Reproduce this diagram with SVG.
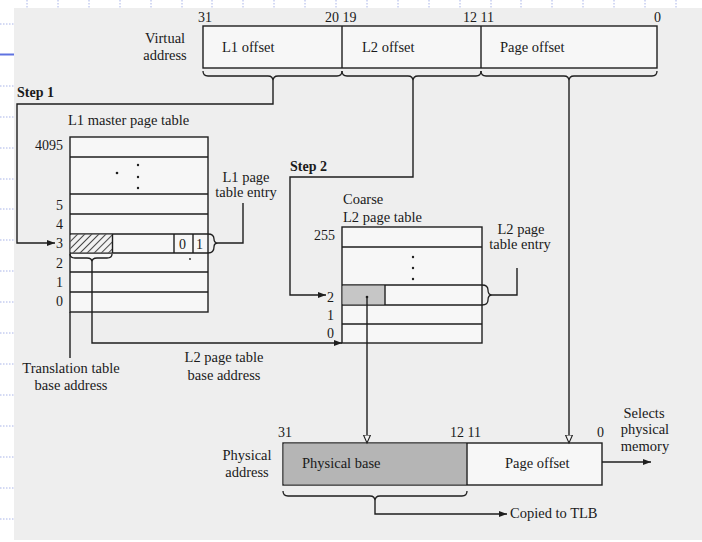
<svg xmlns="http://www.w3.org/2000/svg" width="702" height="542" viewBox="0 0 702 542">
<style>
text{font-family:"Liberation Serif","Times New Roman",serif;font-size:14.5px;fill:#1a1a1a}
.b{font-weight:bold;font-size:14px}
.n{font-size:14px}
.m{text-anchor:middle}
.e{text-anchor:end}
.box{fill:#f7f7f7;stroke:#1e1e1e;stroke-width:1.4}
.ln{fill:none;stroke:#1e1e1e;stroke-width:1.4}
.br{fill:none;stroke:#1e1e1e;stroke-width:1.3}
.dot{fill:#1e1e1e}
.grid{stroke:#a9b4e8;stroke-width:1;stroke-dasharray:1.5 1.5}
</style>
<defs>
<marker id="ah" markerWidth="9" markerHeight="7" refX="8" refY="3" orient="auto" markerUnits="userSpaceOnUse">
<path d="M0,0 L8,3 L0,6 z" fill="#1e1e1e"/>
</marker>
<marker id="oh" markerWidth="10" markerHeight="9" refX="8.5" refY="4" orient="auto" markerUnits="userSpaceOnUse">
<path d="M0.5,0.5 L8.5,4 L0.5,7.5 z" fill="#f4f4f4" stroke="#1e1e1e" stroke-width="1.1"/>
</marker>
<pattern id="hatch" width="5" height="5" patternUnits="userSpaceOnUse" patternTransform="rotate(45)">
<rect width="5" height="5" fill="#f2f2f2"/>
<line x1="0" y1="0" x2="0" y2="5" stroke="#1e1e1e" stroke-width="1.6"/>
</pattern>
</defs>
<rect width="702" height="542" fill="#ffffff"/>
<g id="template">
<g class="grid">
<line x1="27" y1="0" x2="27" y2="8"/><line x1="58" y1="0" x2="58" y2="8"/><line x1="89" y1="0" x2="89" y2="8"/><line x1="120" y1="0" x2="120" y2="8"/><line x1="151" y1="0" x2="151" y2="8"/><line x1="182" y1="0" x2="182" y2="8"/><line x1="212" y1="0" x2="212" y2="8"/><line x1="243" y1="0" x2="243" y2="8"/><line x1="274" y1="0" x2="274" y2="8"/><line x1="305" y1="0" x2="305" y2="8"/><line x1="336" y1="0" x2="336" y2="8"/><line x1="367" y1="0" x2="367" y2="8"/><line x1="398" y1="0" x2="398" y2="8"/><line x1="429" y1="0" x2="429" y2="8"/><line x1="460" y1="0" x2="460" y2="8"/><line x1="491" y1="0" x2="491" y2="8"/><line x1="521" y1="0" x2="521" y2="8"/><line x1="552" y1="0" x2="552" y2="8"/><line x1="583" y1="0" x2="583" y2="8"/><line x1="614" y1="0" x2="614" y2="8"/><line x1="645" y1="0" x2="645" y2="8"/><line x1="676" y1="0" x2="676" y2="8"/>
<line x1="0" y1="24" x2="14" y2="24"/><line x1="0" y1="86" x2="14" y2="86"/><line x1="0" y1="117" x2="14" y2="117"/><line x1="0" y1="148" x2="14" y2="148"/><line x1="0" y1="179" x2="14" y2="179"/><line x1="0" y1="209" x2="14" y2="209"/><line x1="0" y1="240" x2="14" y2="240"/><line x1="0" y1="271" x2="14" y2="271"/><line x1="0" y1="302" x2="14" y2="302"/><line x1="0" y1="333" x2="14" y2="333"/><line x1="0" y1="364" x2="14" y2="364"/><line x1="0" y1="395" x2="14" y2="395"/><line x1="0" y1="426" x2="14" y2="426"/><line x1="0" y1="457" x2="14" y2="457"/><line x1="0" y1="488" x2="14" y2="488"/><line x1="0" y1="519" x2="14" y2="519"/>
</g>
<line x1="0" y1="54.5" x2="14" y2="54.5" stroke="#5f72e0" stroke-width="2"/>
<rect x="14" y="8" width="688" height="532" fill="#eeeeee"/>
</g>

<g id="virtual-address">
<rect class="box" x="203" y="26" width="454" height="42"/>
<line class="ln" x1="342" y1="26" x2="342" y2="68"/>
<line class="ln" x1="481" y1="26" x2="481" y2="68"/>
<text class="n" x="198" y="22">31</text>
<text class="n" x="325" y="22">20 19</text>
<text class="n" x="463" y="22">12 11</text>
<text class="n" x="654" y="22">0</text>
<text class="m" x="165" y="43">Virtual</text>
<text class="m" x="165" y="60">address</text>
<text x="222" y="52">L1 offset</text>
<text x="362" y="52">L2 offset</text>
<text x="500" y="52">Page offset</text>
<path class="br" d="M203,71 Q203,76 208,76 L268,76 Q273,76 273,81 Q273,76 278,76 L337,76 Q342,76 342,71"/>
<path class="br" d="M342,71 Q342,76 347,76 L408,76 Q413,76 413,81 Q413,76 418,76 L476,76 Q481,76 481,71"/>
<path class="br" d="M481,71 Q481,76 486,76 L564,76 Q569,76 569,81 Q569,76 574,76 L652,76 Q657,76 657,71"/>
</g>

<g id="l1-table">
<text x="68" y="125">L1 master page table</text>
<rect class="box" x="70" y="137" width="138" height="175"/>
<g class="ln">
<line x1="70" y1="157" x2="208" y2="157"/>
<line x1="70" y1="194" x2="208" y2="194"/>
<line x1="70" y1="214" x2="208" y2="214"/>
<line x1="70" y1="234" x2="208" y2="234"/>
<line x1="70" y1="253" x2="208" y2="253"/>
<line x1="70" y1="272" x2="208" y2="272"/>
<line x1="70" y1="292" x2="208" y2="292"/>
<line x1="174" y1="234" x2="174" y2="253"/>
<line x1="193" y1="234" x2="193" y2="253"/>
</g>
<rect x="70.7" y="234.7" width="41.6" height="17.6" fill="url(#hatch)"/>
<line class="ln" x1="112.5" y1="234" x2="112.5" y2="253"/>
<text class="n" x="179" y="249">0</text>
<text class="n" x="196" y="249">1</text>
<circle class="dot" cx="117" cy="173" r="1.3"/>
<circle class="dot" cx="138" cy="165" r="1.2"/>
<circle class="dot" cx="138" cy="177" r="1.2"/>
<circle class="dot" cx="138" cy="188" r="1.2"/>
<circle class="dot" cx="190" cy="259" r="0.9"/>
<text class="n e" x="63" y="150">4095</text>
<text class="n e" x="63" y="210">5</text>
<text class="n e" x="63" y="229">4</text>
<text class="n e" x="63" y="248">3</text>
<text class="n e" x="63" y="268">2</text>
<text class="n e" x="63" y="287">1</text>
<text class="n e" x="63" y="306">0</text>
<path class="br" d="M208,234 Q214,234 214,239 Q214,243 218,243 Q214,243 214,247 Q214,253 208,253"/>
<path class="br" d="M70,254 Q70,258 75,258 L87,258 Q92,258 92,262 Q92,258 97,258 L107,258 Q112,258 112,254"/>
<text class="m" x="246" y="182">L1 page</text>
<text class="m" x="246" y="197">table entry</text>
</g>

<g id="l2-table">
<text x="343" y="204">Coarse</text>
<text x="343" y="222">L2 page table</text>
<rect class="box" x="342" y="227" width="140" height="116"/>
<g class="ln">
<line x1="342" y1="247" x2="482" y2="247"/>
<line x1="342" y1="285" x2="482" y2="285"/>
<line x1="342" y1="305" x2="482" y2="305"/>
<line x1="342" y1="324" x2="482" y2="324"/>
</g>
<rect x="342.7" y="285.7" width="42" height="18.6" fill="#c6c6c6"/>
<line class="ln" x1="385" y1="285" x2="385" y2="305"/>
<circle class="dot" cx="413" cy="257" r="1.2"/>
<circle class="dot" cx="413" cy="268" r="1.2"/>
<circle class="dot" cx="413" cy="279" r="1.2"/>
<text class="n e" x="335" y="240">255</text>
<text class="n e" x="334" y="302">2</text>
<text class="n e" x="334" y="320">1</text>
<text class="n e" x="334" y="338">0</text>
<path class="br" d="M482,285 Q488,285 488,290 Q488,295 492,295 Q488,295 488,300 Q488,305 482,305"/>
<text class="m" x="521" y="234">L2 page</text>
<text class="m" x="520" y="249">table entry</text>
</g>

<g id="physical-address">
<rect class="box" x="283" y="443" width="319" height="42" fill="#fafafa"/>
<rect x="283.7" y="443.7" width="183" height="40.6" fill="#b5b5b5"/>
<line class="ln" x1="467" y1="443" x2="467" y2="485"/>
<text x="302" y="468">Physical base</text>
<text x="505" y="468">Page offset</text>
<text class="n" x="278" y="437">31</text>
<text class="n" x="450" y="437">12 11</text>
<text class="n" x="597" y="437">0</text>
<text class="m" x="247" y="460">Physical</text>
<text class="m" x="247" y="477">address</text>
<path class="br" d="M283,491 Q283,496 288,496 L370,496 Q375,496 375,501 Q375,496 380,496 L462,496 Q467,496 467,491"/>
<text class="m" x="644" y="418">Selects</text>
<text class="m" x="645" y="434">physical</text>
<text class="m" x="645" y="451">memory</text>
<text x="510" y="518">Copied to TLB</text>
</g>

<g id="labels">
<text class="b" x="17" y="97">Step 1</text>
<text class="b" x="290" y="171">Step 2</text>
<text class="m" x="71" y="373">Translation table</text>
<text class="m" x="71" y="390">base address</text>
<text class="m" x="224" y="362">L2 page table</text>
<text class="m" x="224" y="380">base address</text>
</g>

<g id="connectors">
<path class="ln" d="M273,81 V104 H17 V243 H55" marker-end="url(#ah)"/>
<path class="ln" d="M413,81 V177 H290 V295 H326" marker-end="url(#ah)"/>
<path class="ln" d="M569,81 V443" marker-end="url(#oh)"/>
<path class="ln" d="M218,243 H243 V203"/>
<path class="ln" d="M492,295 H517 V268"/>
<path class="ln" d="M92,262 V343 H342" marker-end="url(#ah)"/>
<path class="ln" d="M70,312 V358"/>
<circle class="dot" cx="367" cy="297" r="1.3"/>
<path class="ln" d="M367,297 V443" marker-end="url(#oh)"/>
<path class="ln" d="M602,462 H651" marker-end="url(#ah)"/>
<path class="ln" d="M375,501 V514 H507" marker-end="url(#ah)"/>
</g>
</svg>
